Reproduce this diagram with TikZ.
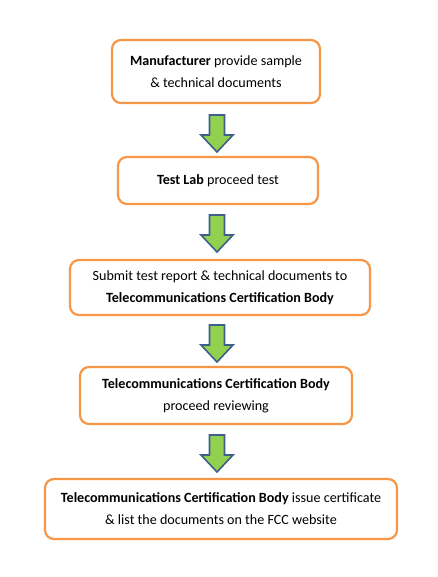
\documentclass[tikz,border=0pt]{standalone}
\usepackage{fontspec}
\setmainfont{Carlito}
\begin{document}
\begin{tikzpicture}[x=1pt,y=-1pt,
  stepbox/.style={draw=boxorange, line width=2.2pt, rounded corners=9pt, fill=white, align=center, font=\fontsize{14.1}{22}\selectfont, inner sep=0pt},
  blockarrow/.style={fill=arrowgreen, draw=arrowblue, line width=1.6pt, line join=miter}
]
\definecolor{boxorange}{HTML}{F79646}
\definecolor{arrowgreen}{HTML}{92D050}
\definecolor{arrowblue}{HTML}{3E5F8A}
\useasboundingbox (0,0) rectangle (438,577);
\node[stepbox, minimum width=208pt, minimum height=63pt] (b1) at (216,71.5) {\textbf{Manufacturer} provide sample\\\& technical documents};
\node[stepbox, minimum width=200pt, minimum height=47pt] (b2) at (218,180.5) {\textbf{Test Lab} proceed test};
\node[stepbox, minimum width=300pt, minimum height=55pt] (b3) at (220,287.5) {Submit test report \& technical documents to\\\textbf{Telecommunications Certification Body}};
\node[stepbox, minimum width=272pt, minimum height=57pt] (b4) at (216,395.5) {\textbf{Telecommunications Certification Body}\\proceed reviewing};
\node[stepbox, minimum width=352pt, minimum height=60pt] (b5) at (221,509) {\textbf{Telecommunications Certification Body} issue certificate\\\& list the documents on the FCC website};
\foreach \t in {115,215,325,435}{
  \draw[blockarrow] (209.5,\t) -- (224.5,\t) -- (224.5,\t+20) -- (233,\t+20) -- (217,\t+37) -- (201,\t+20) -- (209.5,\t+20) -- cycle;
}
\end{tikzpicture}
\end{document}
